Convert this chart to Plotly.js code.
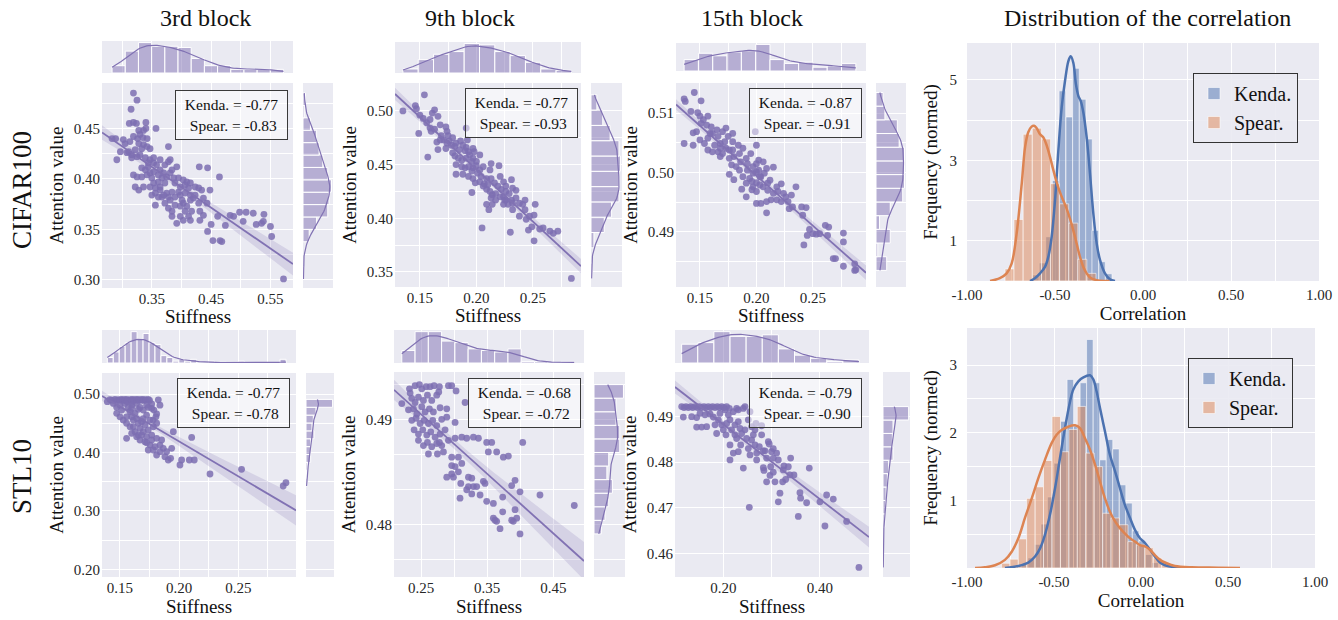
<!DOCTYPE html>
<html><head><meta charset="utf-8">
<script src="https://cdn.plot.ly/plotly-3.0.1.min.js"></script>
<style>html,body{margin:0;padding:0;background:#fff}</style>
</head><body><div id="chart" style="width:1338px;height:620px"></div>
<script>
// ---------- scatter data (Stiffness vs Attention value) ----------
const c3x=[0.319,0.325,0.315,0.312,0.319,0.324,0.340,0.340,0.357,0.283,0.289,0.302,0.305,0.313,0.319,0.326,0.330,0.335,0.328,0.336,0.342,0.347,0.333,0.322,0.297,0.291,0.311,0.316,0.325,0.330,0.339,0.347,0.353,0.378,0.364,0.378,0.381,0.319,0.325,0.333,0.339,0.344,0.347,0.353,0.361,0.364,0.370,0.375,0.381,0.387,0.395,0.403,0.409,0.398,0.389,0.372,0.361,0.353,0.347,0.336,0.328,0.322,0.350,0.356,0.364,0.367,0.375,0.384,0.389,0.398,0.406,0.412,0.415,0.429,0.434,0.448,0.430,0.444,0.464,0.356,0.372,0.381,0.389,0.398,0.403,0.415,0.420,0.429,0.443,0.398,0.392,0.403,0.412,0.417,0.431,0.437,0.431,0.450,0.444,0.453,0.465,0.468,0.461,0.474,0.482,0.488,0.498,0.509,0.504,0.521,0.526,0.535,0.538,0.539,0.550,0.552,0.572,0.342,0.350,0.367,0.372,0.358,0.353,0.344,0.392,0.384,0.406,0.415,0.423,0.361,0.378,0.384,0.406,0.409,0.384,0.415,0.378,0.370,0.316,0.308,0.342,0.336,0.328,0.333,0.395,0.401,0.423,0.437,0.364,0.356];
const c3y=[0.485,0.478,0.469,0.455,0.456,0.455,0.456,0.450,0.450,0.440,0.440,0.439,0.435,0.437,0.442,0.440,0.444,0.441,0.435,0.434,0.432,0.430,0.430,0.429,0.427,0.419,0.427,0.424,0.422,0.424,0.421,0.419,0.421,0.432,0.419,0.417,0.419,0.404,0.402,0.411,0.409,0.412,0.406,0.407,0.404,0.409,0.406,0.402,0.406,0.401,0.401,0.399,0.397,0.392,0.396,0.396,0.397,0.396,0.392,0.392,0.389,0.392,0.384,0.386,0.389,0.382,0.386,0.387,0.382,0.384,0.386,0.391,0.384,0.391,0.389,0.389,0.412,0.411,0.402,0.374,0.376,0.379,0.374,0.373,0.376,0.379,0.381,0.376,0.376,0.363,0.356,0.359,0.363,0.368,0.368,0.364,0.359,0.355,0.348,0.339,0.339,0.338,0.363,0.354,0.364,0.363,0.367,0.367,0.358,0.366,0.355,0.356,0.358,0.365,0.353,0.343,0.301,0.404,0.401,0.401,0.414,0.414,0.416,0.416,0.412,0.409,0.394,0.396,0.392,0.382,0.371,0.368,0.368,0.373,0.363,0.359,0.382,0.384,0.421,0.426,0.440,0.448,0.448,0.402,0.387,0.379,0.384,0.381,0.392,0.391];

const c9x=[0.135,0.146,0.147,0.154,0.150,0.149,0.156,0.159,0.161,0.163,0.166,0.157,0.160,0.163,0.168,0.169,0.173,0.174,0.171,0.165,0.166,0.173,0.176,0.179,0.178,0.181,0.182,0.191,0.186,0.188,0.191,0.190,0.193,0.194,0.181,0.184,0.187,0.191,0.196,0.182,0.187,0.190,0.193,0.197,0.200,0.182,0.188,0.193,0.196,0.197,0.201,0.204,0.206,0.199,0.203,0.207,0.209,0.213,0.220,0.213,0.216,0.219,0.212,0.214,0.217,0.222,0.224,0.226,0.196,0.209,0.211,0.214,0.217,0.221,0.224,0.226,0.229,0.231,0.232,0.231,0.228,0.224,0.232,0.235,0.232,0.241,0.243,0.238,0.244,0.247,0.251,0.252,0.249,0.256,0.259,0.251,0.246,0.230,0.205,0.265,0.272,0.268,0.284,0.179,0.185,0.197,0.200,0.203,0.209,0.210,0.206,0.221,0.226,0.235,0.168,0.175,0.174,0.159,0.153,0.197,0.203,0.192,0.198,0.213,0.238,0.243,0.212,0.225];
const c9y=[0.500,0.505,0.502,0.515,0.496,0.479,0.489,0.492,0.498,0.501,0.495,0.457,0.481,0.483,0.487,0.477,0.485,0.481,0.473,0.471,0.464,0.465,0.472,0.475,0.468,0.467,0.470,0.484,0.472,0.468,0.466,0.463,0.462,0.459,0.458,0.456,0.454,0.456,0.453,0.450,0.448,0.447,0.448,0.447,0.449,0.441,0.441,0.439,0.444,0.437,0.442,0.439,0.448,0.433,0.434,0.432,0.427,0.451,0.449,0.437,0.433,0.430,0.425,0.422,0.423,0.427,0.434,0.430,0.424,0.413,0.408,0.413,0.417,0.420,0.420,0.417,0.423,0.436,0.428,0.417,0.413,0.413,0.414,0.419,0.408,0.413,0.408,0.402,0.399,0.402,0.403,0.413,0.392,0.390,0.391,0.379,0.389,0.387,0.391,0.388,0.388,0.386,0.344,0.461,0.464,0.456,0.453,0.445,0.437,0.431,0.430,0.439,0.425,0.426,0.473,0.477,0.470,0.484,0.493,0.465,0.459,0.473,0.462,0.419,0.414,0.417,0.445,0.417];

const c15x=[0.136,0.137,0.145,0.151,0.142,0.148,0.150,0.153,0.157,0.151,0.156,0.160,0.147,0.144,0.136,0.144,0.150,0.154,0.157,0.161,0.165,0.166,0.170,0.163,0.168,0.172,0.175,0.157,0.161,0.166,0.170,0.173,0.179,0.179,0.173,0.168,0.176,0.180,0.185,0.188,0.178,0.182,0.186,0.191,0.195,0.200,0.199,0.176,0.180,0.188,0.192,0.197,0.200,0.202,0.206,0.191,0.194,0.197,0.200,0.202,0.204,0.207,0.209,0.215,0.187,0.197,0.200,0.203,0.206,0.210,0.212,0.210,0.191,0.200,0.200,0.204,0.209,0.209,0.213,0.218,0.222,0.219,0.224,0.222,0.226,0.228,0.231,0.232,0.229,0.235,0.240,0.244,0.241,0.242,0.247,0.250,0.245,0.253,0.256,0.261,0.264,0.263,0.277,0.277,0.268,0.270,0.277,0.287,0.288,0.287,0.168,0.176,0.184,0.192,0.196,0.215,0.185,0.218,0.159,0.179,0.203,0.196];
const c15y=[0.5124,0.5120,0.5135,0.5121,0.5103,0.5101,0.5095,0.5089,0.5095,0.5083,0.5080,0.5077,0.5069,0.5067,0.5049,0.5046,0.5055,0.5049,0.5058,0.5066,0.5072,0.5061,0.5069,0.5046,0.5049,0.5052,0.5061,0.5038,0.5035,0.5035,0.5032,0.5041,0.5052,0.5038,0.5075,0.5027,0.5024,0.5027,0.5032,0.5041,0.5013,0.5010,0.5018,0.5024,0.5032,0.5046,0.5069,0.4997,0.4988,0.4993,0.5004,0.5010,0.5015,0.5021,0.5018,0.4982,0.4990,0.4999,0.5001,0.5004,0.4993,0.4999,0.5007,0.5009,0.4972,0.4976,0.4983,0.4979,0.4976,0.4982,0.4987,0.4970,0.4959,0.4968,0.4948,0.4948,0.4951,0.4932,0.4954,0.4976,0.4981,0.4968,0.4965,0.4951,0.4959,0.4951,0.4962,0.4942,0.4939,0.4976,0.4942,0.4941,0.4928,0.4878,0.4904,0.4897,0.4894,0.4896,0.4897,0.4911,0.4908,0.4894,0.4898,0.4883,0.4855,0.4855,0.4842,0.4846,0.4836,0.4835,0.5041,0.5038,0.5046,0.5015,0.4985,0.4965,0.5004,0.4954,0.5066,0.5066,0.4993,0.4971];

const s3x=[0.1415,0.1457,0.1486,0.1514,0.1535,0.1556,0.1585,0.1606,0.1627,0.1647,0.1669,0.1690,0.1711,0.1739,0.1824,0.1430,0.1470,0.1500,0.1525,0.1545,0.1565,0.1595,0.1615,0.1640,0.1660,0.1680,0.1700,0.1720,0.1750,0.1560,0.1600,0.1472,0.1500,0.1542,0.1570,0.1600,0.1640,0.1670,0.1725,0.1768,0.1787,0.1838,0.1768,0.1810,0.1804,0.1780,0.1725,0.1697,0.1627,0.1585,0.1556,0.1613,0.1655,0.1556,0.1585,0.1669,0.1627,0.1697,0.1655,0.1739,0.1725,0.1556,0.1669,0.1711,0.1768,0.1810,0.1852,0.1754,0.1796,0.1838,0.1866,0.1739,0.1810,0.1880,0.1908,0.1928,0.1937,0.1951,0.2106,0.2021,0.2007,0.2086,0.2128,0.2261,0.2528,0.2880,0.2903,0.1472,0.1500,0.1528,0.1599,0.1641,0.1683,0.1711,0.1613,0.1599,0.1641,0.1683,0.1768,0.1782,0.1754,0.1810,0.1444,0.1393,0.1514,0.1697,0.1739,0.1599,0.1655,0.1838,0.1894,0.1782,0.1725];
const s3y=[0.4905,0.4908,0.4905,0.4908,0.4905,0.4908,0.4905,0.4908,0.4905,0.4908,0.4905,0.4908,0.4905,0.4908,0.4900,0.4895,0.4890,0.4895,0.4890,0.4895,0.4890,0.4895,0.4890,0.4895,0.4890,0.4895,0.4890,0.4895,0.4890,0.4870,0.4865,0.4772,0.4812,0.4840,0.4770,0.4810,0.4840,0.4770,0.4810,0.4830,0.4726,0.4810,0.4755,0.4660,0.4610,0.4555,0.4640,0.4580,0.4670,0.4700,0.4610,0.4555,0.4500,0.4500,0.4440,0.4412,0.4355,0.4355,0.4298,0.4384,0.4270,0.4241,0.4213,0.4184,0.4213,0.4241,0.4213,0.4127,0.4099,0.4127,0.4070,0.4042,0.3956,0.3928,0.3871,0.3899,0.4070,0.4355,0.4258,0.3871,0.3785,0.3871,0.3871,0.3631,0.3711,0.3426,0.3483,0.4670,0.4610,0.4555,0.4610,0.4580,0.4527,0.4470,0.4440,0.4327,0.4270,0.4298,0.4298,0.4440,0.4555,0.4500,0.4840,0.4869,0.4726,0.4726,0.4772,0.4755,0.4738,0.4013,0.4013,0.4042,0.4167];

const s9x=[0.2208,0.2324,0.2334,0.2409,0.2475,0.2510,0.2576,0.2636,0.2696,0.2777,0.2767,0.2913,0.2963,0.3029,0.3165,0.2359,0.2409,0.2460,0.2535,0.2596,0.2661,0.2737,0.2309,0.2384,0.2435,0.2510,0.2560,0.2626,0.2686,0.2787,0.2888,0.2359,0.2424,0.2485,0.2545,0.2611,0.2676,0.2737,0.2812,0.2888,0.3014,0.2394,0.2460,0.2525,0.2586,0.2646,0.2712,0.2787,0.2863,0.2460,0.2535,0.2596,0.2661,0.2737,0.2812,0.2913,0.3014,0.3115,0.3190,0.3291,0.3367,0.3492,0.3568,0.2611,0.2747,0.2838,0.2963,0.3064,0.3517,0.3643,0.3744,0.3820,0.4037,0.2963,0.3014,0.3115,0.3064,0.2963,0.2888,0.2989,0.3216,0.3100,0.3266,0.3216,0.3291,0.3341,0.3190,0.3266,0.3392,0.3089,0.3442,0.3467,0.3492,0.3593,0.3734,0.3870,0.3921,0.3996,0.4298,0.4817,0.3593,0.3618,0.3643,0.3694,0.3734,0.3870,0.3895,0.3921,0.3946,0.3996,0.2777];
const s9y=[0.4915,0.4929,0.4925,0.4932,0.4933,0.4929,0.4931,0.4931,0.4932,0.4931,0.4926,0.4932,0.4932,0.4927,0.4916,0.4920,0.4916,0.4921,0.4918,0.4923,0.4918,0.4923,0.4909,0.4910,0.4905,0.4912,0.4907,0.4910,0.4907,0.4911,0.4910,0.4899,0.4901,0.4896,0.4899,0.4896,0.4899,0.4894,0.4900,0.4902,0.4897,0.4890,0.4886,0.4890,0.4885,0.4888,0.4883,0.4886,0.4890,0.4880,0.4875,0.4878,0.4874,0.4877,0.4875,0.4880,0.4882,0.4883,0.4882,0.4883,0.4882,0.4878,0.4878,0.4867,0.4867,0.4869,0.4864,0.4864,0.4869,0.4869,0.4864,0.4865,0.4878,0.4856,0.4855,0.4858,0.4850,0.4848,0.4845,0.4845,0.4845,0.4839,0.4844,0.4836,0.4836,0.4836,0.4833,0.4829,0.4828,0.4825,0.4841,0.4839,0.4822,0.4820,0.4826,0.4837,0.4842,0.4831,0.4828,0.4818,0.4806,0.4804,0.4803,0.4796,0.4812,0.4804,0.4803,0.4814,0.4806,0.4791,0.4878];

const s15x=[0.1138,0.1186,0.1228,0.1276,0.1324,0.1366,0.1414,0.1462,0.1503,0.1552,0.1600,0.1641,0.1690,0.1738,0.1779,0.1828,0.1876,0.1917,0.1966,0.2014,0.2069,0.2124,0.1172,0.1448,0.1552,0.1655,0.1517,0.1621,0.1724,0.1793,0.1897,0.1931,0.2034,0.2103,0.2207,0.2276,0.2310,0.2414,0.2448,0.1966,0.2000,0.1862,0.2055,0.2138,0.2172,0.2241,0.2310,0.2241,0.2345,0.2276,0.2138,0.2310,0.2359,0.2207,0.2138,0.2414,0.2517,0.2552,0.2586,0.2655,0.2676,0.2448,0.2483,0.2586,0.2517,0.2655,0.2745,0.2552,0.2690,0.2793,0.2931,0.2950,0.3034,0.2828,0.2999,0.3103,0.2896,0.3138,0.2828,0.2841,0.2896,0.2966,0.2980,0.3034,0.3069,0.3138,0.3172,0.3241,0.3255,0.3290,0.3228,0.3345,0.3379,0.3462,0.3393,0.3586,0.3600,0.3552,0.3724,0.3779,0.2538,0.4000,0.4138,0.4276,0.4103,0.4552,0.4807,0.1448,0.1345,0.1828,0.2069,0.2379,0.2621,0.2793,0.2862,0.2690,0.3034];
const s15y=[0.4922,0.4920,0.4922,0.4920,0.4922,0.4920,0.4922,0.4920,0.4922,0.4920,0.4922,0.4920,0.4922,0.4920,0.4922,0.4920,0.4922,0.4920,0.4922,0.4920,0.4922,0.4918,0.4899,0.4877,0.4877,0.4878,0.4907,0.4904,0.4906,0.4899,0.4893,0.4907,0.4915,0.4904,0.4911,0.4918,0.4915,0.4918,0.4922,0.4882,0.4871,0.4863,0.4860,0.4893,0.4871,0.4882,0.4889,0.4860,0.4874,0.4852,0.4838,0.4823,0.4838,0.4820,0.4805,0.4787,0.4893,0.4911,0.4878,0.4871,0.4885,0.4871,0.4852,0.4849,0.4830,0.4838,0.4834,0.4816,0.4820,0.4880,0.4845,0.4840,0.4830,0.4825,0.4823,0.4820,0.4809,0.4805,0.4788,0.4782,0.4757,0.4771,0.4790,0.4778,0.4757,0.4713,0.4732,0.4783,0.4792,0.4762,0.4757,0.4790,0.4772,0.4772,0.4809,0.4733,0.4721,0.4681,0.4711,0.4787,0.4701,0.4713,0.4728,0.4719,0.4660,0.4670,0.4569,0.4898,0.4900,0.4882,0.4885,0.4863,0.4860,0.4860,0.4825,0.4805,0.4809];

const kendall=[-0.77,-0.77,-0.87,-0.77,-0.68,-0.79];
const spearman=[-0.83,-0.93,-0.91,-0.78,-0.72,-0.90];

// ---------- distribution of the correlation (density bars + kde) ----------
const cifKendX=[-0.608,-0.571,-0.534,-0.496,-0.458,-0.419,-0.381,-0.343,-0.307,-0.271,-0.233,-0.195];
const cifKendY=[0.15,0.45,1.1,2.5,4.73,4.08,5.29,4.52,3.53,1.26,0.48,0.18];
const cifSpearX=[-0.758,-0.707,-0.655,-0.603,-0.551,-0.500,-0.448,-0.396,-0.345,-0.293];
const cifSpearY=[0.30,1.53,3.65,3.80,3.53,2.42,1.92,1.44,0.54,0.19];
const cifKendKdeX=[-0.642,-0.614,-0.585,-0.557,-0.538,-0.519,-0.500,-0.481,-0.462,-0.443,-0.424,-0.411,-0.396,-0.381,-0.367,-0.354,-0.339,-0.320,-0.301,-0.282,-0.263,-0.244,-0.216,-0.188,-0.159];
const cifKendKdeY=[0,0.07,0.19,0.35,0.60,1.10,2.00,3.24,4.32,4.98,5.47,5.59,5.43,4.89,4.60,4.48,4.19,3.57,2.66,1.67,0.93,0.52,0.19,0.04,0];
const cifSpearKdeX=[-0.869,-0.813,-0.775,-0.746,-0.718,-0.689,-0.670,-0.652,-0.633,-0.619,-0.604,-0.585,-0.566,-0.547,-0.528,-0.509,-0.491,-0.472,-0.453,-0.434,-0.415,-0.396,-0.377,-0.358,-0.339,-0.320,-0.301,-0.263,-0.216,-0.190];
const cifSpearKdeY=[0,0.07,0.19,0.44,1.18,2.42,3.33,3.70,3.84,3.86,3.80,3.65,3.57,3.37,3.08,2.75,2.46,2.21,2.00,1.80,1.55,1.26,0.93,0.60,0.35,0.19,0.09,0.02,0,0];

const stlKendX=[-0.669,-0.631,-0.594,-0.556,-0.519,-0.481,-0.444,-0.406,-0.369,-0.331,-0.294,-0.256,-0.219,-0.181,-0.144,-0.106,-0.069,-0.031,0.006,0.044,0.081];
const stlKendY=[0.05,0.15,0.35,0.65,1.05,1.55,2.17,2.79,2.10,2.74,3.38,2.74,1.60,1.90,1.76,1.23,0.96,0.55,0.40,0.20,0.08];
const stlSpearX=[-0.777,-0.729,-0.681,-0.633,-0.584,-0.536,-0.487,-0.439,-0.390,-0.342,-0.293,-0.245,-0.196,-0.148,-0.099,-0.051,-0.002,0.046,0.095,0.143];
const stlSpearY=[0.07,0.13,0.43,1.03,1.20,1.59,2.24,1.72,2.05,2.39,1.70,1.50,0.81,0.74,0.64,0.39,0.34,0.30,0.15,0.08];
const stlKendKdeX=[-0.782,-0.705,-0.648,-0.609,-0.580,-0.552,-0.523,-0.494,-0.466,-0.437,-0.408,-0.389,-0.360,-0.331,-0.293,-0.274,-0.255,-0.236,-0.207,-0.178,-0.149,-0.121,-0.092,-0.063,-0.034,-0.006,0.023,0.052,0.080,0.109,0.138,0.195,0.240];
const stlKendKdeY=[0,0.03,0.08,0.17,0.29,0.49,0.79,1.18,1.62,2.07,2.46,2.64,2.76,2.82,2.85,2.79,2.61,2.37,2.02,1.67,1.43,1.18,0.93,0.74,0.56,0.44,0.37,0.27,0.17,0.08,0.04,0.01,0];
const stlSpearKdeX=[-0.954,-0.897,-0.839,-0.782,-0.743,-0.705,-0.667,-0.628,-0.590,-0.552,-0.513,-0.485,-0.456,-0.418,-0.379,-0.351,-0.322,-0.293,-0.264,-0.236,-0.207,-0.178,-0.149,-0.121,-0.092,-0.063,-0.034,-0.006,0.023,0.052,0.080,0.109,0.148,0.195,0.291,0.444,0.569];
const stlSpearKdeY=[0,0.01,0.04,0.12,0.24,0.44,0.74,1.03,1.33,1.60,1.85,1.97,2.04,2.09,2.11,2.07,1.92,1.75,1.53,1.28,1.03,0.83,0.69,0.59,0.51,0.44,0.39,0.34,0.32,0.27,0.19,0.12,0.07,0.03,0.01,0.005,0];

// ---------- tick values / labels ----------
const c3XTicks=[0.30,0.35,0.40,0.45,0.50,0.55], c3XText=['','0.35','','0.45','','0.55'];
const c3YTicks=[0.30,0.325,0.35,0.375,0.40,0.425,0.45,0.475], c3YText=['0.30','','0.35','','0.40','','0.45',''];
const c9XTicks=[0.15,0.175,0.20,0.225,0.25,0.275], c9XText=['0.15','','0.20','','0.25',''];
const c9YTicks=[0.35,0.375,0.40,0.425,0.45,0.475,0.50], c9YText=['0.35','','0.40','','0.45','','0.50'];
const c15XTicks=[0.15,0.175,0.20,0.225,0.25,0.275], c15XText=['0.15','','0.20','','0.25',''];
const c15YTicks=[0.485,0.49,0.495,0.50,0.505,0.51], c15YText=['','0.49','','0.50','','0.51'];
const s3XTicks=[0.15,0.175,0.20,0.225,0.25,0.275], s3XText=['0.15','','0.20','','0.25',''];
const s3YTicks=[0.20,0.25,0.30,0.35,0.40,0.45,0.50], s3YText=['0.20','','0.30','','0.40','','0.50'];
const s9XTicks=[0.25,0.30,0.35,0.40,0.45], s9XText=['0.25','','0.35','','0.45'];
const s9YTicks=[0.47667,0.48,0.48333,0.48667,0.49,0.49333], s9YText=['','0.48','','','0.49',''];
const s15XTicks=[0.1,0.2,0.3,0.4,0.5], s15XText=['','0.20','','0.40',''];
const s15YTicks=[0.46,0.47,0.48,0.49], s15YText=['0.46','0.47','0.48','0.49'];
const corrTicks=[-1,-0.75,-0.5,-0.25,0,0.25,0.5,0.75,1], corrText=['-1.00','','-0.50','','0.00','','0.50','','1.00'];
const freqTopTicks=[1,2,3,4,5], freqTopText=['1','','3','','5'];
const freqBotTicks=[0.5,1,1.5,2,2.5,3], freqBotText=['','1','','2','','3'];

const colTitles=['3rd block','9th block','15th block','Distribution of the correlation'];
const rowTitles=['CIFAR100','STL10'];

// ---------- styling / layout ----------
const FONT='"Liberation Serif","Times New Roman",serif';
const PURPLE='#8172b3', BG='#eaeaf2', BLUE='#4c72b0', ORANGE='#dd8452';
const W=1338,H=620;
const fx=p=>p/W, fy=p=>1-p/H;
const sfx=n=>n===1?'':String(n);
const XR=n=>'x'+sfx(n), YR=n=>'y'+sfx(n), XA=n=>'xaxis'+sfx(n), YA=n=>'yaxis'+sfx(n);

const joint=[
 {x:c3x,y:c3y,main:[102,293,83,288],top:[41,73],right:[303,333],xr:[0.266,0.588],yr:[0.292,0.495],xt:c3XTicks,xl:c3XText,yt:c3YTicks,yl:c3YText,nbx:13,nby:15,box:[231.5,114.5],xtitleY:316},
 {x:c9x,y:c9y,main:[395,581,83,287],top:[42,73],right:[591,622],xr:[0.128,0.2925],yr:[0.336,0.526],xt:c9XTicks,xl:c9XText,yt:c9YTicks,yl:c9YText,nbx:11,nby:12,box:[521,113],xtitleY:315},
 {x:c15x,y:c15y,main:[676,866,83,287],top:[43,71],right:[876,906],xr:[0.1288,0.297],yr:[0.4807,0.5151],xt:c15XTicks,xl:c15XText,yt:c15YTicks,yl:c15YText,nbx:12,nby:13,box:[805,113],xtitleY:315},
 {x:s3x,y:s3y,main:[102,296,373,577],top:[330,363],right:[306,334],xr:[0.1348,0.2988],yr:[0.1868,0.536],xt:s3XTicks,xl:s3XText,yt:s3YTicks,yl:s3YText,nbx:30,nby:11,box:[233,403],xtitleY:606.5},
 {x:s9x,y:s9y,main:[394,584,372,577],top:[330,363],right:[594,625],xr:[0.209,0.4964],yr:[0.475,0.4945],xt:s9XTicks,xl:s9XText,yt:s9YTicks,yl:s9YText,nbx:13,nby:11,box:[524,403],xtitleY:606.5},
 {x:s15x,y:s15y,main:[675,869,372,577],top:[330,363],right:[883,910],xr:[0.10,0.5015],yr:[0.4548,0.4998],xt:s15XTicks,xl:s15XText,yt:s15YTicks,yl:s15YText,nbx:11,nby:12,box:[805,403],xtitleY:606.5}
];

const axBase={showgrid:true,gridcolor:'white',gridwidth:1,zeroline:false,showline:false,ticks:'',fixedrange:true,
  tickfont:{family:FONT,size:15,color:'#262626'},tickmode:'array'};
const titleFont={family:FONT,size:19,color:'#111'};

function mean(a){return a.reduce((s,v)=>s+v,0)/a.length;}
function std(a){const m=mean(a);return Math.sqrt(a.reduce((s,v)=>s+(v-m)*(v-m),0)/(a.length-1));}
function kde(vals,n){
  const lo=Math.min(...vals),hi=Math.max(...vals),bw=std(vals)*Math.pow(vals.length,-0.2);
  const g=[],d=[];
  for(let i=0;i<n;i++){const t=lo+(hi-lo)*i/(n-1);let s=0;
    for(const v of vals){const z=(t-v)/bw;s+=Math.exp(-0.5*z*z);}
    g.push(t);d.push(s/(vals.length*bw*Math.sqrt(2*Math.PI)));}
  return {g,d};
}
function regress(xs,ys,xr,n){
  const N=xs.length,mx=mean(xs),my=mean(ys);
  let sxx=0,sxy=0;for(let i=0;i<N;i++){sxx+=(xs[i]-mx)**2;sxy+=(xs[i]-mx)*(ys[i]-my);}
  const b=sxy/sxx,a=my-b*mx;let sse=0;for(let i=0;i<N;i++){sse+=(ys[i]-a-b*xs[i])**2;}
  const s=Math.sqrt(sse/(N-2));
  const gx=[],gy=[],up=[],lo=[];
  for(let i=0;i<n;i++){const t=xr[0]+(xr[1]-xr[0])*i/(n-1);const yh=a+b*t;
    const h=1.97*s*Math.sqrt(1/N+(t-mx)**2/sxx);gx.push(t);gy.push(yh);up.push(yh+h);lo.push(yh-h);}
  return {gx,gy,up,lo};
}

const traces=[];
const layout={width:W,height:H,margin:{l:0,r:0,t:0,b:0,pad:0},paper_bgcolor:'white',plot_bgcolor:BG,
  font:{family:FONT,color:'#262626'},barmode:'overlay',bargap:0,showlegend:true,annotations:[],
  legend:{x:fx(1193),y:fy(73),xanchor:'left',yanchor:'top',bgcolor:'rgba(234,234,242,0.9)',bordercolor:'#333',borderwidth:1,
    font:{family:FONT,size:20,color:'#111'},itemwidth:30},
  legend2:{x:fx(1188),y:fy(358),xanchor:'left',yanchor:'top',bgcolor:'rgba(234,234,242,0.9)',bordercolor:'#333',borderwidth:1,
    font:{family:FONT,size:20,color:'#111'},itemwidth:30}
};

joint.forEach((p,i)=>{
  const m=3*i+1,t=m+1,r=m+2;
  const xd=[fx(p.main[0]),fx(p.main[1])], yd=[fy(p.main[3]),fy(p.main[2])];
  layout[XA(m)]=Object.assign({},axBase,{domain:xd,range:p.xr,anchor:YR(m),tickvals:p.xt,ticktext:p.xl,ticklabelstandoff:0});
  layout[YA(m)]=Object.assign({},axBase,{domain:yd,range:p.yr,anchor:XR(m),tickvals:p.yt,ticktext:p.yl,ticklabelstandoff:1,
    title:{text:'Attention value',font:titleFont,standoff:5}});
  layout[XA(t)]=Object.assign({},axBase,{domain:xd,range:p.xr,anchor:YR(t),tickvals:p.xt,showticklabels:false});
  layout[YA(t)]=Object.assign({},axBase,{domain:[fy(p.top[1]),fy(p.top[0])],anchor:XR(t),showgrid:false,showticklabels:false,rangemode:'tozero',autorange:true});
  layout[XA(r)]=Object.assign({},axBase,{domain:[fx(p.right[0]),fx(p.right[1])],anchor:YR(r),showgrid:false,showticklabels:false,rangemode:'tozero',autorange:true});
  layout[YA(r)]=Object.assign({},axBase,{domain:yd,range:p.yr,anchor:XR(r),tickvals:p.yt,showticklabels:false});

  const rg=regress(p.x,p.y,p.xr,80);
  traces.push({type:'scatter',mode:'lines',x:rg.gx.concat(rg.gx.slice().reverse()),y:rg.up.concat(rg.lo.slice().reverse()),
    fill:'toself',fillcolor:'rgba(129,114,179,0.2)',line:{width:0},xaxis:XR(m),yaxis:YR(m),showlegend:false,hoverinfo:'skip'});
  traces.push({type:'scatter',mode:'markers',x:p.x,y:p.y,marker:{size:6.8,color:'rgba(125,110,178,0.85)'},xaxis:XR(m),yaxis:YR(m),showlegend:false});
  traces.push({type:'scatter',mode:'lines',x:rg.gx,y:rg.gy,line:{color:PURPLE,width:1.8},xaxis:XR(m),yaxis:YR(m),showlegend:false,hoverinfo:'skip'});

  const mnx=Math.min(...p.x),mxx=Math.max(...p.x),szx=(mxx-mnx)/p.nbx;
  traces.push({type:'histogram',x:p.x,histnorm:'probability density',autobinx:false,
    xbins:{start:mnx-szx*0.001,end:mxx+szx*0.01,size:szx*1.0002},
    marker:{color:'rgba(129,114,179,0.5)',line:{color:'white',width:1}},xaxis:XR(t),yaxis:YR(t),showlegend:false,hoverinfo:'skip'});
  const kx=kde(p.x,100);
  traces.push({type:'scatter',mode:'lines',x:kx.g,y:kx.d,line:{color:PURPLE,width:1.2},xaxis:XR(t),yaxis:YR(t),showlegend:false,hoverinfo:'skip'});

  const mny=Math.min(...p.y),mxy=Math.max(...p.y),szy=(mxy-mny)/p.nby;
  traces.push({type:'histogram',y:p.y,histnorm:'probability density',autobiny:false,
    ybins:{start:mny-szy*0.001,end:mxy+szy*0.01,size:szy*1.0002},
    marker:{color:'rgba(129,114,179,0.5)',line:{color:'white',width:1}},xaxis:XR(r),yaxis:YR(r),showlegend:false,hoverinfo:'skip'});
  const ky=kde(p.y,100);
  traces.push({type:'scatter',mode:'lines',x:ky.d,y:ky.g,line:{color:PURPLE,width:1.2},xaxis:XR(r),yaxis:YR(r),showlegend:false,hoverinfo:'skip'});

  layout.annotations.push({xref:'paper',yref:'paper',x:fx(p.box[0]),y:fy(p.box[1]),xanchor:'center',yanchor:'middle',
    text:'Kenda. = '+kendall[i].toFixed(2)+'<br> Spear. = '+spearman[i].toFixed(2),showarrow:false,align:'center',
    font:{family:FONT,size:15.5,color:'#111'},bgcolor:'rgba(255,255,255,0.5)',bordercolor:'#3a3a3a',borderwidth:1,borderpad:4,width:103,height:40});
  // x-axis title of the scatter panel
  layout.annotations.push({xref:'paper',yref:'paper',x:fx((p.main[0]+p.main[1])/2),y:fy(p.xtitleY),xanchor:'center',yanchor:'middle',
    text:'Stiffness',showarrow:false,font:titleFont});
});

// distribution panels
const dist=[
 {ax:19,xd:[967,1319],yd:[43,281],yr:[0,5.92],yt:freqTopTicks,yl:freqTopText,leg:'legend',
  kx:cifKendX,ky:cifKendY,sx:cifSpearX,sy:cifSpearY,kkx:cifKendKdeX,kky:cifKendKdeY,skx:cifSpearKdeX,sky:cifSpearKdeY,kw:0.0375,sw:0.0517},
 {ax:20,xd:[967,1315],yd:[328,568],yr:[0,3.55],yt:freqBotTicks,yl:freqBotText,leg:'legend2',
  kx:stlKendX,ky:stlKendY,sx:stlSpearX,sy:stlSpearY,kkx:stlKendKdeX,kky:stlKendKdeY,skx:stlSpearKdeX,sky:stlSpearKdeY,kw:0.0375,sw:0.0485}
];
dist.forEach(d=>{
  const n=d.ax;
  layout[XA(n)]=Object.assign({},axBase,{domain:[fx(d.xd[0]),fx(d.xd[1])],range:[-1,1],anchor:YR(n),tickvals:corrTicks,ticktext:corrText,ticklabelstandoff:3,
    title:{text:'Correlation',font:titleFont,standoff:2}});
  layout[YA(n)]=Object.assign({},axBase,{domain:[fy(d.yd[1]),fy(d.yd[0])],range:d.yr,anchor:XR(n),tickvals:d.yt,ticktext:d.yl,ticklabelstandoff:9,
    title:{text:'Frequency (normed)',font:titleFont,standoff:6}});
  traces.push({type:'bar',x:d.kx,y:d.ky,width:d.kw,name:'Kenda.',legend:d.leg,marker:{color:'rgba(76,114,176,0.5)',line:{color:'rgba(255,255,255,0.7)',width:0.8}},xaxis:XR(n),yaxis:YR(n),hoverinfo:'skip'});
  traces.push({type:'scatter',mode:'lines',x:d.kkx,y:d.kky,line:{color:BLUE,width:2.5,shape:'spline'},xaxis:XR(n),yaxis:YR(n),showlegend:false,hoverinfo:'skip'});
  traces.push({type:'bar',x:d.sx,y:d.sy,width:d.sw,name:'Spear.',legend:d.leg,marker:{color:'rgba(221,132,82,0.5)',line:{color:'rgba(255,255,255,0.7)',width:0.8}},xaxis:XR(n),yaxis:YR(n),hoverinfo:'skip'});
  traces.push({type:'scatter',mode:'lines',x:d.skx,y:d.sky,line:{color:ORANGE,width:2.5,shape:'spline'},xaxis:XR(n),yaxis:YR(n),showlegend:false,hoverinfo:'skip'});
});

// column and row titles
const colX=[205.5,470,752,1147.5];
colTitles.forEach((t,i)=>layout.annotations.push({xref:'paper',yref:'paper',x:fx(colX[i]),y:fy(18),text:t,showarrow:false,
  xanchor:'center',yanchor:'middle',font:{family:FONT,size:24,color:'#111'}}));
const rowY=[190,477];
rowTitles.forEach((t,i)=>layout.annotations.push({xref:'paper',yref:'paper',x:fx(22),y:fy(rowY[i]),text:t,showarrow:false,
  textangle:-90,xanchor:'center',yanchor:'middle',font:{family:FONT,size:27,color:'#111'}}));

Plotly.newPlot('chart',traces,layout,{displayModeBar:false,staticPlot:true});
</script></body></html>
